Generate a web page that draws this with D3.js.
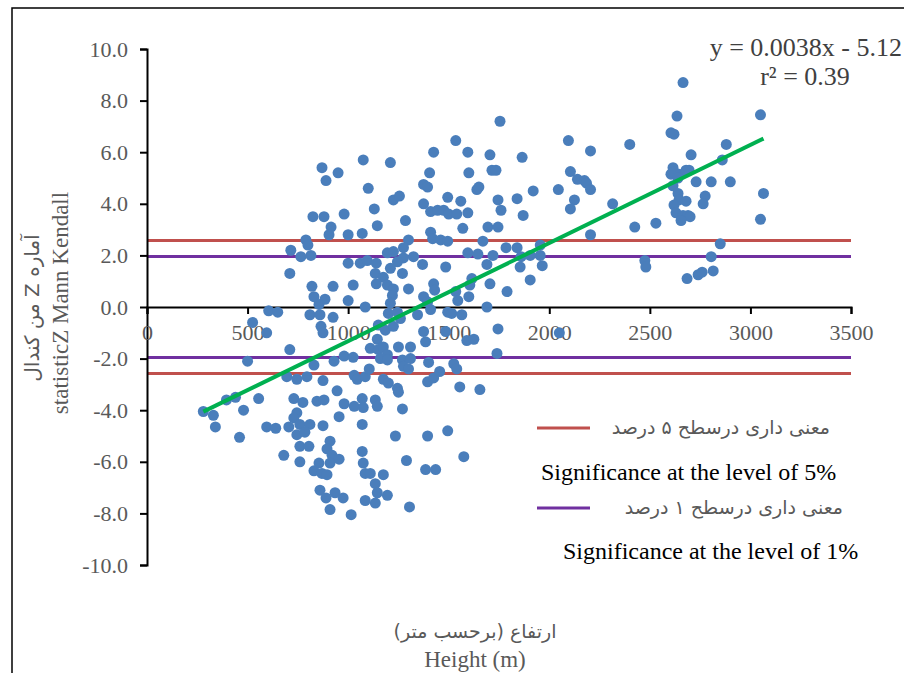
<!DOCTYPE html>
<html>
<head>
<meta charset="utf-8">
<script src="https://cdn.jsdelivr.net/npm/d3@7"></script>
<style>
body { margin: 0; background: #fff; }
</style>
</head>
<body>
<div id="chart"></div>
<script>
var xTicks = [0, 500, 1000, 1500, 2000, 2500, 3000, 3500];
var yTicks = [-10, -8, -6, -4, -2, 0, 2, 4, 6, 8, 10];
var sigLevels = [2.58, 1.96];        // 5% and 1%
var sigColors = ['#c0504d', '#7030a0'];
var legendFa = ['معنی داری درسطح ۵ درصد', 'معنی داری درسطح ۱ درصد'];
var legendEn = ['Significance at the level of 5%', 'Significance at the level of 1%'];
var slope = 0.0038, intercept = -5.12;
var eqText = ['y = 0.0038x - 5.12', 'r² = 0.39'];

// [height (m), Mann-Kendall Z]
var points = [
  [870,5.4],[950,5.2],[890,4.9],[825,3.5],[880,3.5],[980,3.6],[915,3.1],[905,2.8],[1000,2.8],[790,2.6],
  [800,2.4],[715,2.2],[765,1.95],[815,2.0],[1000,1.7],[1060,1.7],[710,1.3],[820,0.8],[925,0.8],[1025,0.85],
  [830,0.4],[885,0.3],[1000,0.25],[855,0.1],[605,-0.15],[650,-0.2],[810,-0.3],
  [525,-0.6],[860,-0.3],[865,-0.75],[925,-0.4],[595,-1.0],[875,-1.0],[710,-1.65],[500,-2.1],[830,-2.25],
  [930,-2.1],[980,-1.9],[1025,-1.95],[695,-2.7],[745,-2.8],[795,-2.7],[875,-2.85],[1030,-2.65],[1045,-2.8],
  [945,-3.25],[280,-4.05],[330,-4.2],[395,-3.6],[440,-3.5],[555,-3.55],[480,-4.0],[340,-4.65],[460,-5.05],
  [595,-4.65],[640,-4.7],[730,-3.55],[775,-3.7],[845,-3.65],[880,-3.6],[980,-3.75],[1030,-3.85],[955,-4.25],
  [745,-4.1],[730,-4.3],[705,-4.65],[760,-4.55],[810,-4.55],[875,-4.6],[745,-4.95],[785,-4.85],[760,-5.4],
  [805,-5.4],[910,-5.2],[895,-5.5],[680,-5.75],[760,-6.0],[920,-5.75],[955,-5.9],[910,-6.05],[855,-6.05],
  [830,-6.35],[870,-6.45],[895,-6.5],[860,-7.1],[890,-7.4],[935,-7.2],[975,-7.4],[910,-7.85],[1015,-8.05],
  [1755,7.2],[1535,6.45],[1425,6.0],[1595,6.0],[1705,5.9],[1865,5.8],[1075,5.7],[1210,5.6],[1405,5.2],
  [1600,5.2],[1715,5.3],[1735,5.3],[1100,4.6],[1375,4.75],[1395,4.65],[1640,4.55],[1650,4.65],[1225,4.15],
  [1255,4.3],[1495,4.25],[1560,4.1],[1745,4.15],[1840,4.2],[1130,3.8],[1375,4.0],[1410,3.7],[1445,3.75],
  [1475,3.75],[1500,3.6],[1540,3.6],[1595,3.65],[1760,3.75],[1870,3.55],[1285,3.35],[1145,3.15],[1570,3.05],
  [1695,3.1],[1745,3.1],[1070,2.85],[1410,2.9],[1420,2.65],[1460,2.6],[1300,2.6],[1495,2.55],[1670,2.55],
  [1785,2.3],[1840,2.3],[1095,1.8],[1140,1.7],[1195,2.1],[1225,2.15],[1275,2.3],[1275,1.9],[1245,1.75],
  [1325,1.95],[1370,1.65],[1595,2.1],[1645,2.05],[1720,2.0],[1860,1.95],[1135,1.3],[1175,1.15],[1210,1.5],
  [1270,1.3],[1485,1.55],[1690,1.65],[1855,1.55],[1140,0.9],[1195,0.85],[1225,0.7],[1300,0.7],[1425,0.9],
  [1430,0.65],[1615,1.1],[1605,0.85],[1705,0.9],[1220,0.45],[1375,0.4],[1535,0.6],[1545,0.25],[1600,0.4],
  [1790,0.6],[1085,0.0],[1690,0.0],[1200,-0.25],[1245,-0.2],[1410,-0.1],[1495,-0.2],[1515,-0.25],[1210,0.15],
  [1395,0.2],[1260,-0.45],[1345,-0.3],[1565,-0.3],[1150,-0.7],[1185,-0.9],[1225,-0.75],[1375,-0.95],
  [1385,-1.35],[1485,-0.95],[1590,-1.3],[1625,-1.25],[1745,-0.85],[1145,-1.25],[1110,-1.6],[1150,-1.65],
  [1175,-1.55],[1195,-1.85],[1250,-1.55],[1310,-1.55],[1160,-2.0],[1195,-2.05],[1270,-2.05],[1310,-2.0],
  [1275,-2.3],[1300,-2.4],[1400,-2.15],[1525,-2.2],[1540,-2.4],[1740,-1.8],[1085,-2.7],[1105,-2.4],
  [1175,-2.8],[1200,-2.95],[1245,-3.15],[1250,-3.3],[1395,-2.9],[1425,-2.75],[1455,-2.5],[1555,-3.1],
  [1655,-3.2],[1070,-3.55],[1075,-3.9],[1135,-3.6],[1145,-3.85],[1270,-3.95],[1070,-4.55],[1235,-5.0],
  [1395,-5.0],[1495,-4.8],[1070,-5.6],[1075,-6.05],[1290,-5.95],[1575,-5.8],[1385,-6.3],[1435,-6.3],
  [1085,-6.45],[1110,-6.45],[1175,-6.5],[1135,-6.85],[1145,-7.2],[1195,-7.3],[1085,-7.5],[1135,-7.6],
  [1305,-7.75],
  [2635,7.4],[2605,6.75],[2620,6.7],[2095,6.45],[2205,6.05],[2400,6.3],[2880,6.3],[2705,5.9],[2860,5.7],
  [2105,5.25],[2140,4.95],[2175,4.9],[2185,4.8],[2205,4.55],[2045,4.55],[1920,4.5],[2125,4.15],[2105,3.8],
  [2315,4.0],[2615,5.4],[2620,5.25],[2645,5.15],[2680,5.3],[2695,5.3],[2605,5.15],[2640,5.0],[2730,4.85],
  [2805,4.85],[2900,4.85],[2615,4.7],[2640,4.4],[2645,4.15],[2680,4.1],[2775,4.3],[2765,4.0],[2620,3.95],
  [2630,3.65],[2665,3.55],[2690,3.55],[2700,3.5],[2655,3.35],[2425,3.1],[2530,3.25],[2205,2.8],[1955,2.4],
  [1955,2.0],[1905,2.0],[1965,1.6],[1905,1.05],[2475,1.8],[2480,1.55],[2850,2.45],[2805,1.95],[2815,1.4],
  [2685,1.1],[2740,1.25],[2760,1.35],[2665,8.7],[3050,7.45],[3065,4.4],[3050,3.4],[2050,-1.0]
];

var W = 904, H = 673;
var svg = d3.select('#chart').append('svg')
    .attr('width', W)
    .attr('height', H);

var x = d3.scaleLinear().domain([0, 3500]).range([147, 851]);
var y = d3.scaleLinear().domain([-10, 10]).range([565, 49]);

var serif = '"Liberation Serif", "Times New Roman", serif';
var arabic = '"DejaVu Sans", sans-serif';

// outer frame (right and bottom edges fall outside the picture)
svg.append('path')
    .attr('d', 'M12,' + H + 'V8H' + W)
    .attr('fill', 'none')
    .attr('stroke', '#000')
    .attr('stroke-width', 1.5);

// significance lines
sigLevels.forEach(function(v, i) {
  [v, -v].forEach(function(lv) {
    svg.append('line')
        .attr('x1', x(0)).attr('x2', x(3500))
        .attr('y1', y(lv)).attr('y2', y(lv))
        .attr('stroke', sigColors[i])
        .attr('stroke-width', 3);
  });
});

// axes
var fmt = function(d) { return d.toFixed(1); };
var yAxis = svg.append('g')
    .attr('transform', 'translate(' + x(0) + ',0)')
    .call(d3.axisLeft(y).tickValues(yTicks).tickFormat(fmt).tickSize(7).tickPadding(12));
var xAxis = svg.append('g')
    .attr('transform', 'translate(0,' + y(0) + ')')
    .call(d3.axisBottom(x).tickValues(xTicks).tickFormat(d3.format('d')).tickSize(7).tickPadding(10));

[xAxis, yAxis].forEach(function(g) {
  g.selectAll('.domain').attr('stroke', '#000').attr('stroke-width', 2);
  g.selectAll('.tick line').attr('stroke', '#000').attr('stroke-width', 2);
  g.selectAll('.tick text')
      .attr('fill', '#595959')
      .style('font-family', serif)
      .style('font-size', '22px');
});

// points
svg.append('g').selectAll('circle')
    .data(points)
    .enter().append('circle')
    .attr('cx', function(d) { return x(d[0]); })
    .attr('cy', function(d) { return y(d[1]); })
    .attr('r', 5.5)
    .attr('fill', '#4a7ebb');

// trend line
var ext = d3.extent(points, function(d) { return d[0]; });
svg.append('line')
    .attr('x1', x(ext[0])).attr('y1', y(slope * ext[0] + intercept))
    .attr('x2', x(ext[1])).attr('y2', y(slope * ext[1] + intercept))
    .attr('stroke', '#00b050')
    .attr('stroke-width', 4);

// equation
svg.append('text')
    .attr('x', 902).attr('y', 56)
    .attr('text-anchor', 'end')
    .attr('fill', '#404040')
    .style('font-family', serif).style('font-size', '26px')
    .text(eqText[0]);
svg.append('text')
    .attr('x', 805).attr('y', 85)
    .attr('text-anchor', 'middle')
    .attr('fill', '#404040')
    .style('font-family', serif).style('font-size', '26px')
    .text(eqText[1]);

// legend
var legY = [428, 508];
var enY = [480, 559];
var enX = [541, 563];
var faX = [830, 843];
legY.forEach(function(ly, i) {
  svg.append('line')
      .attr('x1', 537).attr('x2', 590)
      .attr('y1', ly).attr('y2', ly)
      .attr('stroke', sigColors[i])
      .attr('stroke-width', 3);
  svg.append('text')
      .attr('x', faX[i]).attr('y', ly + 6)
      .attr('text-anchor', 'end')
      .attr('fill', '#595959')
      .style('font-family', arabic).style('font-size', '19px')
      .text(legendFa[i]);
  svg.append('text')
      .attr('x', enX[i]).attr('y', enY[i])
      .attr('fill', '#000')
      .style('font-family', serif).style('font-size', '24px')
      .text(legendEn[i]);
});

// axis titles
svg.append('text')
    .attr('x', 475).attr('y', 638)
    .attr('text-anchor', 'middle')
    .attr('fill', '#595959')
    .style('font-family', arabic).style('font-size', '19px')
    .text('ارتفاع (برحسب متر)');
svg.append('text')
    .attr('x', 475).attr('y', 667)
    .attr('text-anchor', 'middle')
    .attr('fill', '#595959')
    .style('font-family', serif).style('font-size', '23px')
    .text('Height (m)');

svg.append('text')
    .attr('transform', 'translate(39,308) rotate(-90)')
    .attr('direction', 'rtl')
    .attr('text-anchor', 'middle')
    .attr('fill', '#595959')
    .style('font-family', arabic).style('font-size', '20px')
    .text('آماره Z من کندال');
svg.append('text')
    .attr('transform', 'translate(68,303) rotate(-90)')
    .attr('text-anchor', 'middle')
    .attr('fill', '#595959')
    .style('font-family', serif).style('font-size', '23px')
    .text('statisticZ Mann Kendall');
</script>
</body>
</html>
